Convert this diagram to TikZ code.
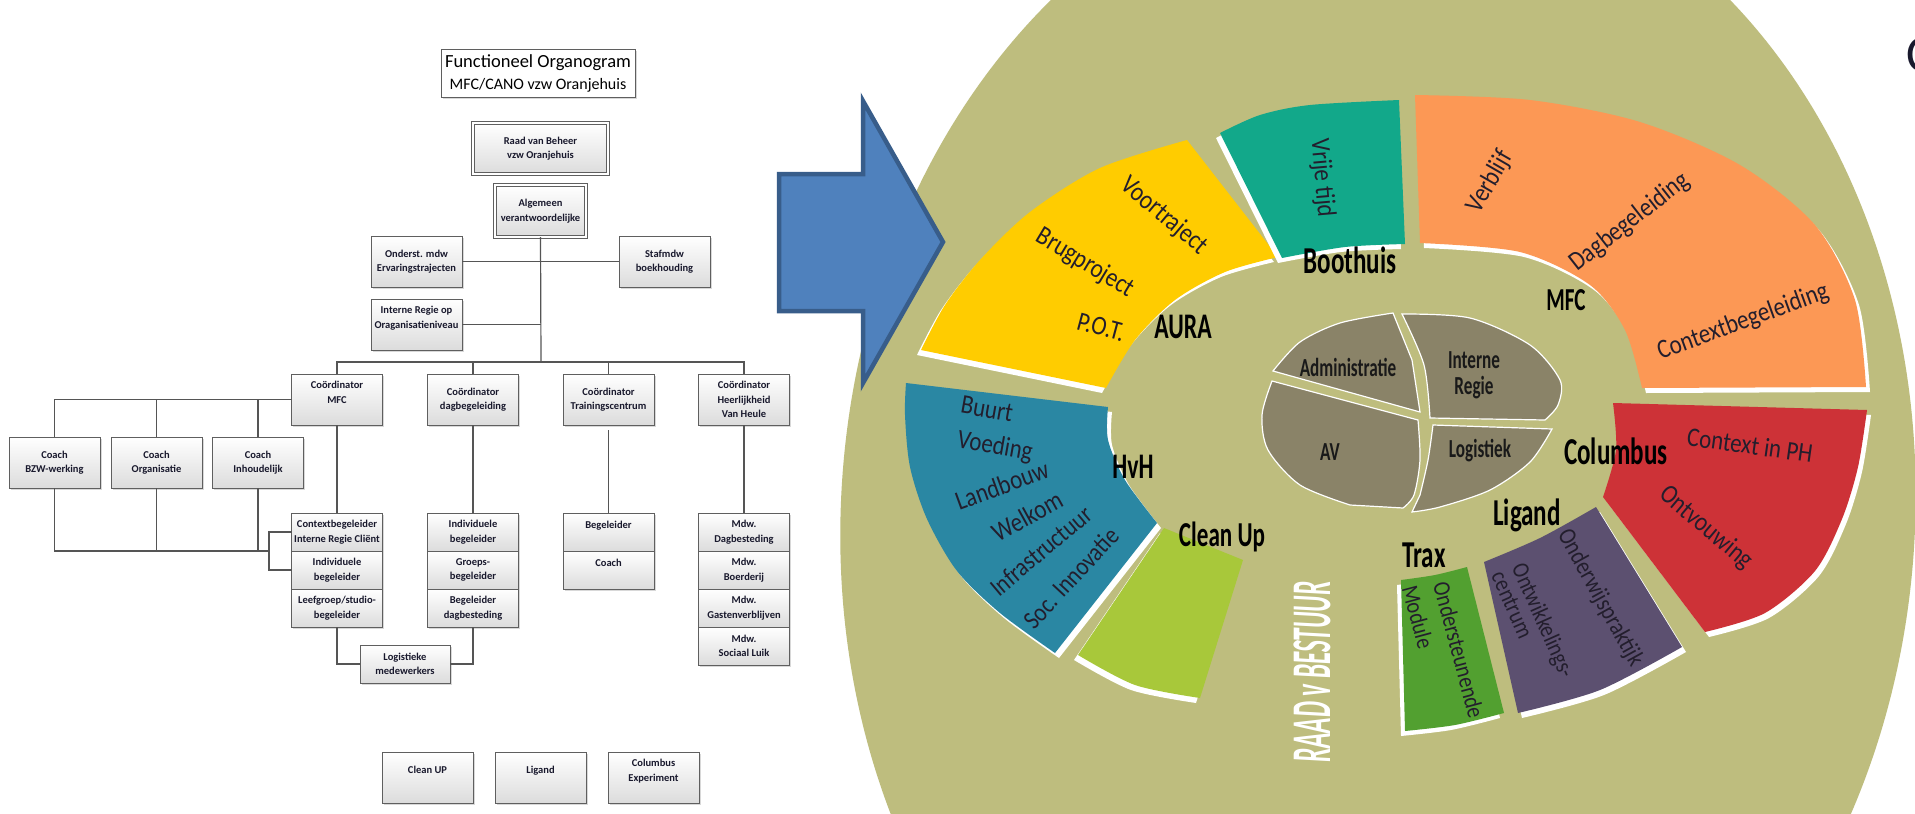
\documentclass[tikz,border=0pt]{standalone}
\usepackage{fontspec}
\setmainfont{Carlito}
\newfontfamily\wheelfont[FakeStretch=0.66]{Carlito}
\newfontfamily\segfont[FakeStretch=0.85]{Carlito}
\newfontfamily\raadfont[FakeStretch=0.45]{Carlito}
\usetikzlibrary{positioning,shadows}

\definecolor{boxline}{RGB}{95,95,95}
\definecolor{boxfill}{RGB}{220,220,220}
\definecolor{orgtext}{RGB}{25,25,45}
\definecolor{linkgray}{RGB}{85,85,85}
\definecolor{olivebg}{RGB}{190,189,126}
\definecolor{auragold}{RGB}{255,204,0}
\definecolor{boothteal}{RGB}{18,168,138}
\definecolor{mfcorange}{RGB}{252,152,85}
\definecolor{columbred}{RGB}{205,50,55}
\definecolor{ligandpurple}{RGB}{92,80,112}
\definecolor{traxgreen}{RGB}{82,160,48}
\definecolor{cleanlime}{RGB}{168,200,58}
\definecolor{hvhblue}{RGB}{42,135,163}
\definecolor{piebrown}{RGB}{138,131,104}
\definecolor{arrowfill}{RGB}{79,129,189}
\definecolor{arrowedge}{RGB}{56,93,138}
\definecolor{segink}{RGB}{35,30,45}

\newcommand\orgfont{\fontsize{10.5}{14.5}\selectfont\bfseries}

\tikzset{
orgbox/.style = {draw=boxline, line width=0.8pt, top color=white, bottom color=boxfill,
  minimum width=91pt, minimum height=51pt, inner sep=0pt, outer sep=0pt, align=center,
  text=orgtext, font=\orgfont,
  drop shadow={shadow xshift=1.5pt, shadow yshift=-1.5pt, opacity=0.3}},
orgcell/.style = {orgbox, minimum height=38pt},
headbox/.style = {orgbox, double=white, double distance=1.6pt},
titlebox/.style = {draw=boxline, line width=0.8pt, fill=white, minimum width=194pt,
  minimum height=48pt, inner sep=0pt, align=center, font=\fontsize{18.5}{22}\selectfont,
  drop shadow={shadow xshift=1.5pt, shadow yshift=-1.5pt, opacity=0.3}},
link/.style = {draw=linkgray, line width=1.2pt},
ringlabel/.style = {font=\wheelfont\bfseries\fontsize{38}{38}\selectfont, inner sep=0pt},
pielabel/.style = {font=\wheelfont\bfseries\fontsize{26}{26}\selectfont, text=black!90, inner sep=0pt, align=center},
segtext/.style = {font=\segfont\fontsize{27}{27}\selectfont, text=segink, inner sep=0pt},
pad/.style = {white, shift={(-4,5)}},
padr/.style = {white, shift={(4,5)}}
}

\begin{document}
\begin{tikzpicture}[x=1pt, y=-1pt]
\useasboundingbox (0,0) rectangle (1915,814);
\fill[white] (0,0) rectangle (1915,814);

% --- organogram ---
\node[titlebox] (title) at (538,73) {Functioneel Organogram\\{\fontsize{16}{22}\selectfont MFC/CANO vzw Oranjehuis}};
\node[headbox, minimum width=135pt] (raad) at (540.5,148.5) {Raad van Beheer\\vzw Oranjehuis};
\node[headbox, minimum height=52pt] (alg) at (540.5,211) {Algemeen\\verantwoordelijke};
\node[orgbox] (ond)  at (416.5,261.5) {Onderst. mdw\\Ervaringstrajecten};
\node[orgbox] (staf) at (664.5,261.5) {Stafmdw\\boekhouding};
\node[orgbox] (irg)  at (416.5,324.5) {Interne Regie op\\Oraganisatieniveau\\~};
\coordinate (bus) at (541,362);

\node[orgbox] (cmfc)   at (337,399.5)   {Coördinator\\MFC\\~};
\node[orgbox] (cdag)   at (473,399.5)   {Coördinator\\dagbegeleiding};
\node[orgbox] (ctrain) at (608.5,399.5) {Coördinator\\Trainingscentrum};
\node[orgbox] (cheer)  at (744,399.5)   {Coördinator\\Heerlijkheid\\Van Heule};

\node[orgbox] (bzw)  at (54.5,462.5)  {Coach\\BZW-werking};
\node[orgbox] (corg) at (156.5,462.5) {Coach\\Organisatie};
\node[orgbox] (cinh) at (258,462.5)   {Coach\\Inhoudelijk};

\node[orgcell] (ctx) at (337,532) {Contextbegeleider\\Interne Regie Cliënt};
\node[orgcell, below=0pt of ctx]    (indmfc) {Individuele\\begeleider};
\node[orgcell, below=0pt of indmfc] (leef)   {Leefgroep/studio-\\begeleider};

\node[orgcell] (inddag) at (473,532) {Individuele\\begeleider};
\node[orgcell, below=0pt of inddag] (groep) {Groeps-\\begeleider};
\node[orgcell, below=0pt of groep]  (bdag)  {Begeleider\\dagbesteding};

\node[orgcell] (btrain) at (608.5,532) {Begeleider\\~};
\node[orgcell, below=0pt of btrain] (coachtr) {Coach\\~};

\node[orgcell] (mdag) at (744,532) {Mdw.\\Dagbesteding};
\node[orgcell, below=0pt of mdag]  (mboer) {Mdw.\\Boerderij};
\node[orgcell, below=0pt of mboer] (mgast) {Mdw.\\Gastenverblijven};
\node[orgcell, below=0pt of mgast] (msoc)  {Mdw.\\Sociaal Luik};

\node[orgcell, minimum width=90pt] (logi) at (405,664) {Logistieke\\medewerkers};

\node[orgbox] (clean) at (427.5,777.5) {Clean UP\\~};
\node[orgbox] (lig)   at (540.5,777.5) {Ligand\\~};
\node[orgbox] (colex) at (653.5,777.5) {Columbus\\Experiment\\~};

\draw[link] (alg.south) -- (bus);
\draw[link] (ond.east) -- (staf.west);
\draw[link] (irg.east) -- (irg.east -| bus);
\draw[link] (cmfc.north) |- (bus) -| (cheer.north);
\draw[link] (cdag.north) -- (cdag.north |- bus);
\draw[link] (ctrain.north) -- (ctrain.north |- bus);
\draw[link] (cmfc.west) -| (bzw.north);
\draw[link] (corg.north) -- (corg.north |- cmfc.west);
\draw[link] (cinh.north) -- (cinh.north |- cmfc.west);
\coordinate (cbot) at (269,551);
\draw[link] (bzw.south) |- (cbot);
\draw[link] (corg.south) -- (corg.south |- cbot);
\draw[link] (cinh.south) -- (cinh.south |- cbot);
\draw[link] (ctx.west) -| (cbot) |- (indmfc.west);
\draw[link] (cmfc.south) -- (ctx.north);
\draw[link] (cdag.south) -- (inddag.north);
\draw[link] ([yshift=-5pt]ctrain.south) -- (btrain.north);
\draw[link] (cheer.south) -- (mdag.north);
\draw[link] (leef.south) |- (logi.west);
\draw[link] (bdag.south) |- (logi.east);

% --- wheel ---
\begin{scope}
\clip (0,0) rectangle (1915,814);
\fill[olivebg, rotate around={-4:(1378,515)}] (1378,515) ellipse (537 and 665);

% AURA
\foreach \st in {pad, auragold}
  \fill[\st] plot[smooth] coordinates {(921,350) (945,305) (980,260) (1030,212) (1100,168) (1187,140)}
    -- plot[smooth] coordinates {(1278,257) (1225,272) (1175,300) (1135,340) (1106,388)} -- cycle;
% Boothuis
\foreach \st in {pad, boothteal}
  \fill[\st] plot[smooth] coordinates {(1220,133) (1260,115) (1310,105) (1399,100)}
    -- plot[smooth] coordinates {(1405,244) (1345,247) (1282,258)} -- cycle;
% MFC
\foreach \st in {padr, mfcorange}
  \fill[\st] plot[smooth] coordinates {(1415,95) (1530,100) (1640,122) (1740,165) (1815,225) (1855,300) (1866,387)}
    -- plot[smooth] coordinates {(1642,388) (1625,330) (1590,285) (1520,252) (1420,243)} -- cycle;
% Columbus
\foreach \st in {padr, columbred}
  \fill[\st] (1613,403) -- plot[smooth] coordinates {(1867,410) (1858,467) (1842,519) (1815,571) (1765,613) (1705,632)}
    -- plot[smooth] coordinates {(1603,497) (1616,450) (1613,403)} -- cycle;
% Ligand
\foreach \st in {padr, ligandpurple}
  \fill[\st] (1596,507) -- plot[smooth] coordinates {(1682,647) (1600,690) (1518,713)}
    -- plot[smooth] coordinates {(1484,562) (1540,538) (1596,507)} -- cycle;
% Trax
\foreach \st in {pad, traxgreen}
  \fill[\st] plot[smooth] coordinates {(1401,580) (1435,575) (1467,567)}
    -- plot[smooth] coordinates {(1504,713) (1455,725) (1405,731)} -- cycle;
% Clean Up
\foreach \st in {pad, cleanlime}
  \fill[\st] (1164,528) -- (1243,560) -- plot[smooth] coordinates {(1200,698) (1135,685) (1078,655)} -- cycle;
% HvH
\foreach \st in {padr, hvhblue}
  \fill[\st] plot[smooth] coordinates {(906,383) (905,415) (910,467) (927,519) (957,571) (1000,613) (1055,653)}
    -- plot[smooth] coordinates {(1157,523) (1125,480) (1108,440) (1108,407)} -- cycle;

% centre pie
\begin{scope}[fill=piebrown, draw=white, line width=1.2pt]
\filldraw plot[smooth] coordinates {(1273,371) (1300,342) (1340,323) (1393,313)}
  -- plot[smooth] coordinates {(1412,360) (1420,412)} -- cycle;
\filldraw plot[smooth] coordinates {(1402,314) (1470,318) (1530,345) (1560,380) (1558,405) (1545,420)}
  -- plot[smooth] coordinates {(1430,418) (1424,365) (1402,314)} -- cycle;
\filldraw (1433,425) -- plot[smooth] coordinates {(1552,429) (1530,462) (1490,490) (1440,507) (1412,512)}
  -- plot[smooth] coordinates {(1420,495) (1428,460) (1433,425)} -- cycle;
\filldraw (1272,381) -- plot[smooth] coordinates {(1418,420) (1420,460) (1414,495) (1403,508)}
  -- plot[smooth] coordinates {(1350,505) (1300,485) (1268,450) (1262,415) (1272,381)} -- cycle;
\end{scope}
\end{scope}

\node[pielabel] (padm) at (1348,367) {Administratie};
\node[pielabel] (pint) at (1474,375) {Interne\\Regie};
\node[pielabel] (pav)  at (1330,452) {AV};
\node[pielabel] (plog) at (1480,451) {Logistiek};

\node[ringlabel] (lboot) at (1350,260) {Boothuis};
\node[ringlabel, font=\wheelfont\bfseries\fontsize{32}{32}\selectfont] (lmfc) at (1566,300) {MFC};
\node[ringlabel, font=\wheelfont\bfseries\fontsize{36}{36}\selectfont] (laura) at (1183,327) {AURA};
\node[ringlabel, font=\wheelfont\bfseries\fontsize{36}{36}\selectfont] (lhvh) at (1133,467) {HvH};
\node[ringlabel, font=\wheelfont\bfseries\fontsize{35}{35}\selectfont] (lclean) at (1222,537) {Clean Up};
\node[ringlabel] (lcol) at (1616,451) {Columbus};
\node[ringlabel] (llig) at (1527,515) {Ligand};
\node[ringlabel] (ltrax) at (1424,555) {Trax};

\node[segtext, rotate=-40] (tvoor) at (1164,216) {Voortraject};
\node[segtext, rotate=-31] (tbrug) at (1085,263) {Brugproject};
\node[segtext, rotate=-15] (tpot) at (1101,327) {P.O.T.};
\node[segtext, rotate=-85] (tvrij) at (1322,178) {Vrije tijd};
\node[segtext, rotate=60] (tverb) at (1490,182) {Verblijf};
\node[segtext, rotate=38] (tdag) at (1630,222) {Dagbegeleiding};
\node[segtext, rotate=20] (tcont) at (1743,322) {Contextbegeleiding};
\node[segtext, rotate=-8] (tcph) at (1750,445) {Context in PH};
\node[segtext, rotate=-40] (tontv) at (1706,528) {Ontvouwing};
\node[segtext, rotate=-61, font=\segfont\fontsize{25}{25}\selectfont] (tondw) at (1600,598) {Onderwijspraktijk};
\node[segtext, rotate=-66, font=\segfont\fontsize{24}{24}\selectfont] (tontw) at (1542,621) {Ontwikkelings-};
\node[segtext, rotate=-66, font=\segfont\fontsize{24}{24}\selectfont] (tcentr) at (1512,605) {centrum};
\node[segtext, rotate=-75, font=\segfont\fontsize{24}{24}\selectfont] (tonds) at (1459,650) {Ondersteunende};
\node[segtext, rotate=-75, font=\segfont\fontsize{24}{24}\selectfont] (tmod) at (1418,617) {Module};
\node[segtext, rotate=-10] (tbuurt) at (987,409) {Buurt};
\node[segtext, rotate=-10] (tvoed) at (995,447) {Voeding};
\node[segtext, rotate=20] (tland) at (1002,485) {Landbouw};
\node[segtext, rotate=29] (twelk) at (1027,516) {Welkom};
\node[segtext, rotate=40, font=\segfont\fontsize{26}{26}\selectfont] (tinfra) at (1041,551) {Infrastructuur};
\node[segtext, rotate=47, font=\segfont\fontsize{26}{26}\selectfont] (tsoc) at (1071,578) {Soc. Innovatie};

\node[rotate=90, text=white, inner sep=0pt, font=\raadfont\bfseries\itshape\fontsize{56}{56}\selectfont] (raadv) at (1312,672) {RAAD v BESTUUR};

\node[anchor=west, inner sep=0pt, text=orgtext, font=\fontsize{52}{52}\selectfont] (cut) at (1906,55) {C};

% --- arrow ---
\draw[fill=arrowfill, draw=arrowedge, line width=4.5pt, line join=miter]
  (779,174) -- (863,174) -- (863,101) -- (943,242) -- (863,383) -- (863,311) -- (779,311) -- cycle;
\end{tikzpicture}
\end{document}
